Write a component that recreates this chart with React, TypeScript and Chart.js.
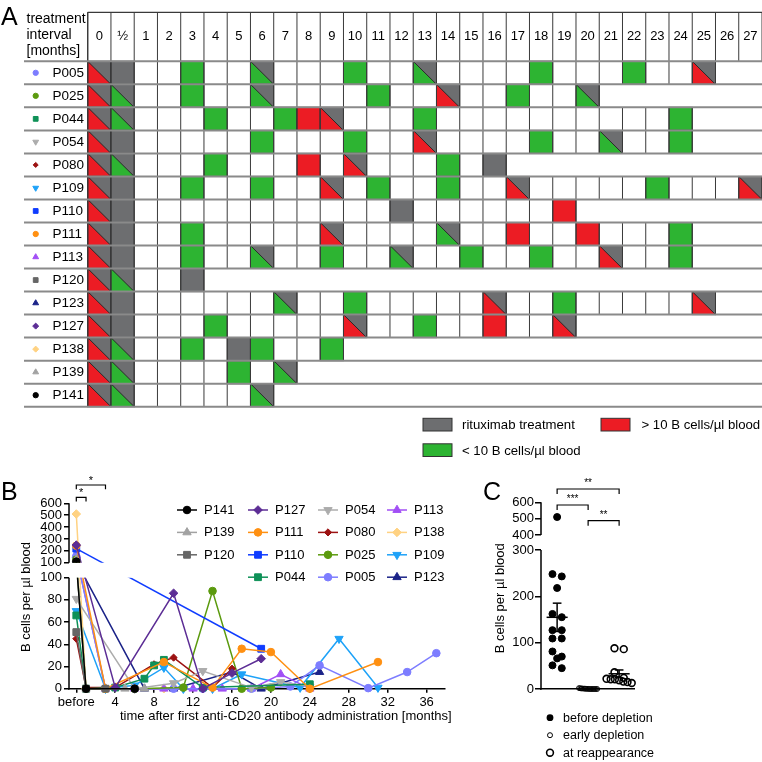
import React, { useEffect, useRef } from 'react';
import { Chart, registerables, LinearScale } from 'chart.js';
import { drawPoint } from 'chart.js/helpers';

Chart.register(...registerables);

const FONT = '"Liberation Sans", Arial, Helvetica, sans-serif';
Chart.defaults.font.family = FONT;
Chart.defaults.color = '#000';

// ---------------- Panel A data ----------------
const patients = ['P005', 'P025', 'P044', 'P054', 'P080', 'P109', 'P110', 'P111', 'P113', 'P120', 'P123', 'P127', 'P138', 'P139', 'P141'];
const intervalLabels = ['0', '½', '1', '2', '3', '4', '5', '6', '7', '8', '9', '10', '11', '12', '13', '14', '15', '16', '17', '18', '19', '20', '21', '22', '23', '24', '25', '26', '27'];
// r: >10 B cells + rituximab, q: <10 B cells + rituximab, g: rituximab, G: <10, R: >10, '.': empty
const cellsP005 = 'rg..G..q...G..q....G...G..r';
const cellsP025 = 'rq..G..q....G..r..G..q';
const cellsP044 = 'rq...G..GRr...G..........G';
const cellsP054 = 'rg.....G...G..r....G..q..G';
const cellsP080 = 'rq...G...R.r...G.g';
const cellsP109 = 'rg..G..G..r.G..G..r.....G...r';
const cellsP110 = 'rg...........g......R';
const cellsP111 = 'rg..G.....r....q..R..R...G';
const cellsP113 = 'rg..G..q..G..q..G..G..r..G';
const cellsP120 = 'rq..g';
const cellsP123 = 'rg......q..G.....r..G.....r';
const cellsP127 = 'rg...G.....r..G..R..r';
const cellsP138 = 'rq..G.gG..G';
const cellsP139 = 'rq....G.q';
const cellsP141 = 'rq.....q';
const treatmentCells = [cellsP005, cellsP025, cellsP044, cellsP054, cellsP080, cellsP109, cellsP110, cellsP111, cellsP113, cellsP120, cellsP123, cellsP127, cellsP138, cellsP139, cellsP141];

// ---------------- Panel B data ----------------
const monthsP005 = [0, 3, 6, 10, 13, 18, 22, 25, 30, 34, 37];
const valuesP005 = [155, 0, 0, 0, 0, 0, 2, 21, 0.5, 15, 32];
const monthsP025 = [0, 1, 3, 6, 11, 14, 17, 20];
const valuesP025 = [127, 0, 0, 0, 1, 88, 0, 1];
const monthsP044 = [0, 1, 4, 7, 8, 9, 13, 24];
const valuesP044 = [66, 0, 1, 9, 21, 26, 1, 4];
const monthsP054 = [0, 6, 10, 13, 18, 21, 24];
const valuesP054 = [81, 0, 5, 16, 1, 6, 2];
const monthsP080 = [0, 1, 4, 8, 10, 14, 16];
const valuesP080 = [45, 1, 1, 22, 28, 1, 18];
const monthsP109 = [0, 3, 6, 9, 11, 14, 17, 23, 27, 31];
const valuesP109 = [70, 0, 3, 19, 0, 0, 13, 1, 45, 1];
const monthsP110 = [0, 19];
const valuesP110 = [218, 36];
const monthsP111 = [0, 3, 9, 14, 17, 20, 24, 31];
const valuesP111 = [243, 0, 24, 1, 36, 33, 0, 24];
const monthsP113 = [0, 3, 6, 9, 12, 15, 18, 21, 24];
const valuesP113 = [162, 0, 0, 0, 0, 0, 0, 13, 0];
const monthsP120 = [0, 1, 3];
const valuesP120 = [51, 0, 0];
const monthsP123 = [0, 7, 10, 16, 19, 25];
const valuesP123 = [109, 0, 0, 15, 0, 15];
const monthsP127 = [0, 4, 10, 13, 16, 19];
const valuesP127 = [248, 1, 86, 0, 14, 27];
const monthsP138 = [0, 1, 3, 6, 9];
const valuesP138 = [510, 0, 0, 0, 0];
const monthsP139 = [0, 1, 5, 7];
const valuesP139 = [127, 0, 0, 0];
const monthsP141 = [0, 1, 6];
const valuesP141 = [109, 0, 0];

const seriesB = [
  { name: 'P141', months: monthsP141, values: valuesP141 },
  { name: 'P139', months: monthsP139, values: valuesP139 },
  { name: 'P120', months: monthsP120, values: valuesP120 },
  { name: 'P127', months: monthsP127, values: valuesP127 },
  { name: 'P111', months: monthsP111, values: valuesP111 },
  { name: 'P110', months: monthsP110, values: valuesP110 },
  { name: 'P044', months: monthsP044, values: valuesP044 },
  { name: 'P054', months: monthsP054, values: valuesP054 },
  { name: 'P080', months: monthsP080, values: valuesP080 },
  { name: 'P025', months: monthsP025, values: valuesP025 },
  { name: 'P005', months: monthsP005, values: valuesP005 },
  { name: 'P113', months: monthsP113, values: valuesP113 },
  { name: 'P138', months: monthsP138, values: valuesP138 },
  { name: 'P109', months: monthsP109, values: valuesP109 },
  { name: 'P123', months: monthsP123, values: valuesP123 },
];
const legendColumnsB = [
  ['P141', 'P139', 'P120'],
  ['P127', 'P111', 'P110', 'P044'],
  ['P054', 'P080', 'P025', 'P005'],
  ['P113', 'P138', 'P109', 'P123'],
];
const xTicksB = [0, 4, 8, 12, 16, 20, 24, 28, 32, 36];
const yTicksBLow = [0, 20, 40, 60, 80, 100];
const yTicksBHigh = [100, 200, 300, 400, 500, 600];

// ---------------- Panel C data ----------------
const groupLabelsC = ['before depletion', 'early depletion', 'at reappearance'];
const beforeDepletion = [155, 127, 66, 81, 45, 70, 218, 243, 162, 51, 109, 248, 510, 127, 109];
const earlyDepletion = [0, 0.5, 0, 1.2, 0, 0.3, 2, 0, 0.8, 0, 1.5, 0, 0.4, 0, 1];
const atReappearance = [21, 88, 21, 16, 22, 19, 36, 24, 13, 15, 86];
const yTicksCLow = [0, 100, 200, 300];
const yTicksCHigh = [400, 500, 600];

// ---------------- styles ----------------
type Style = { color: string; shape: string; r: number; rot?: number };
const seriesStyles: Record<string, Style> = {
  P005: { color: '#7d7dff', shape: 'circle', r: 3.8 },
  P025: { color: '#5b9a0e', shape: 'circle', r: 3.8 },
  P044: { color: '#0f9158', shape: 'rect', r: 4.8 },
  P054: { color: '#acacac', shape: 'triangle', r: 4.8, rot: 180 },
  P080: { color: '#9c1212', shape: 'rectRot', r: 3.6 },
  P109: { color: '#1ea2f8', shape: 'triangle', r: 4.8, rot: 180 },
  P110: { color: '#0f3cff', shape: 'rect', r: 4.8 },
  P111: { color: '#ff9012', shape: 'circle', r: 3.8 },
  P113: { color: '#a24ff5', shape: 'triangle', r: 4.8 },
  P120: { color: '#666666', shape: 'rect', r: 4.8 },
  P123: { color: '#1b2388', shape: 'triangle', r: 4.8 },
  P127: { color: '#5c2d95', shape: 'rectRot', r: 4.3 },
  P138: { color: '#ffd282', shape: 'rectRot', r: 4.3 },
  P139: { color: '#a2a2a2', shape: 'triangle', r: 4.8 },
  P141: { color: '#000000', shape: 'circle', r: 3.8 },
};
const RED = '#ec1c24';
const GREEN = '#2db432';
const GRAY = '#6d6e70';

// ---------------- broken axis scale ----------------
class BrokenScale extends LinearScale {
  static id = 'broken';
  static defaults = {};
  brokenDecimal(v: number) {
    const o: any = this.options;
    const lf = o.lowFrac, gf = o.gapFrac;
    if (v <= o.lowMax) return ((v - this.min) / (o.lowMax - this.min)) * lf;
    return lf + gf + ((v - o.highMin) / (this.max - o.highMin)) * (1 - lf - gf);
  }
  getPixelForValue(value: any) {
    if (value === null || value === undefined || isNaN(value)) return NaN;
    return this.getPixelForDecimal(this.brokenDecimal(value));
  }
  getValueForPixel(pixel: number) {
    const o: any = this.options;
    const d = this.getDecimalForPixel(pixel);
    const lf = o.lowFrac, gf = o.gapFrac;
    if (d <= lf) return this.min + (d / lf) * (o.lowMax - this.min);
    return o.highMin + ((d - lf - gf) / (1 - lf - gf)) * (this.max - o.highMin);
  }
}
Chart.register(BrokenScale as any);

function drawMarker(ctx: CanvasRenderingContext2D, st: Style, x: number, y: number, k = 1) {
  ctx.save();
  ctx.fillStyle = st.color;
  ctx.strokeStyle = st.color;
  ctx.lineWidth = 1;
  drawPoint(ctx, { pointStyle: st.shape, rotation: st.rot || 0, radius: st.r * k, borderWidth: 1 } as any, x, y);
  ctx.restore();
}
function seg(ctx: CanvasRenderingContext2D, x0: number, y0: number, x1: number, y1: number) {
  ctx.beginPath();
  ctx.moveTo(x0, y0);
  ctx.lineTo(x1, y1);
  ctx.stroke();
}
function text(ctx: CanvasRenderingContext2D, s: string, x: number, y: number, size: number, align: CanvasTextAlign = 'left', base: CanvasTextBaseline = 'middle') {
  ctx.font = `${size}px ${FONT}`;
  ctx.fillStyle = '#000';
  ctx.textAlign = align;
  ctx.textBaseline = base;
  ctx.fillText(s, x, y);
}

// ---------------- Panel A plugin ----------------
const tablePlugin = {
  id: 'tablePlugin',
  afterDraw(chart: any) {
    const ctx: CanvasRenderingContext2D = chart.ctx;
    const xs = chart.scales.x, ys = chart.scales.y;
    const X = (c: number) => xs.getPixelForValue(c);
    const Y = (r: number) => ys.getPixelForValue(r);
    const left = X(0), right = chart.width, top = Y(0), bottom = Y(patients.length);
    const headTop = top - 49;
    ctx.save();
    treatmentCells.forEach((row, r) => {
      for (let c = 0; c < row.length; c++) {
        const code = row[c];
        if (code === '.') continue;
        const x0 = X(c), x1 = X(c + 1), y0 = Y(r), y1 = Y(r + 1);
        if (code === 'R' || code === 'G' || code === 'g') {
          ctx.fillStyle = code === 'R' ? RED : code === 'G' ? GREEN : GRAY;
          ctx.fillRect(x0, y0, x1 - x0, y1 - y0);
        } else {
          ctx.fillStyle = GRAY;
          ctx.fillRect(x0, y0, x1 - x0, y1 - y0);
          ctx.fillStyle = code === 'r' ? RED : GREEN;
          ctx.beginPath();
          ctx.moveTo(x0, y0);
          ctx.lineTo(x0, y1);
          ctx.lineTo(x1, y1);
          ctx.closePath();
          ctx.fill();
          ctx.strokeStyle = '#2a2a2a';
          ctx.lineWidth = 1;
          seg(ctx, x0, y0, x1, y1);
        }
        ctx.strokeStyle = '#2a2a2a';
        ctx.lineWidth = 1;
        ctx.strokeRect(x0, y0, x1 - x0, y1 - y0);
      }
    });
    ctx.strokeStyle = '#3a3a3a';
    ctx.lineWidth = 1;
    treatmentCells.forEach((row, r) => {
      for (let c = 0; c <= row.length; c++) seg(ctx, X(c), Y(r), X(c), Y(r + 1));
    });
    for (let c = 0; c <= intervalLabels.length; c++) seg(ctx, X(c), headTop, X(c), top);
    ctx.lineWidth = 1.3;
    seg(ctx, left, headTop, right, headTop);
    seg(ctx, left, headTop, left, bottom);
    ctx.strokeStyle = '#8a8a8a';
    ctx.lineWidth = 2;
    for (let r = 0; r <= patients.length; r++) seg(ctx, 24, Y(r), right, Y(r));
    intervalLabels.forEach((lab, c) => text(ctx, lab, (X(c) + X(c + 1)) / 2, headTop + 24, 13, 'center'));
    text(ctx, 'treatment', 26.5, headTop + 7.3, 14);
    text(ctx, 'interval', 26.5, headTop + 23.3, 14);
    text(ctx, '[months]', 26.5, headTop + 39.3, 14);
    patients.forEach((p, r) => {
      const yc = (Y(r) + Y(r + 1)) / 2;
      drawMarker(ctx, seriesStyles[p], 35.7, yc, 0.7);
      text(ctx, p, 52.5, yc + 0.5, 13.5);
    });
    text(ctx, 'A', 1, 25, 25, 'left', 'alphabetic');
    const box = (x: number, y: number, col: string) => {
      ctx.fillStyle = col;
      ctx.fillRect(x, y, 29, 12.7);
      ctx.strokeStyle = '#333';
      ctx.lineWidth = 1;
      ctx.strokeRect(x, y, 29, 12.7);
    };
    box(423, 418.3, GRAY);
    text(ctx, 'rituximab treatment', 462, 425.5, 13.2);
    box(601, 418.3, RED);
    text(ctx, '> 10 B cells/µl blood', 641.5, 425.5, 13.2);
    box(423, 443.8, GREEN);
    text(ctx, '< 10 B cells/µl blood', 462, 451, 13.2);
    ctx.restore();
  },
};

// ---------------- Panel B plugin ----------------
const B_LOW_MAX = 100;
const bPlugin = {
  id: 'bDecor',
  beforeDatasetsDraw(chart: any) {
    const ctx = chart.ctx, y = chart.scales.y;
    const gTop = y.getPixelForValue(B_LOW_MAX + 1e-6);
    const gBot = y.getPixelForValue(B_LOW_MAX);
    ctx.save();
    ctx.beginPath();
    ctx.rect(0, 0, chart.width, gTop);
    ctx.rect(0, gBot, chart.width, chart.height - gBot);
    ctx.clip();
  },
  afterDatasetsDraw(chart: any) {
    chart.ctx.restore();
  },
  afterDraw(chart: any) {
    const ctx: CanvasRenderingContext2D = chart.ctx;
    const xs = chart.scales.x, ys = chart.scales.y;
    const a = chart.chartArea;
    ctx.save();
    ctx.strokeStyle = '#000';
    ctx.lineWidth = 1.5;
    seg(ctx, a.left, ys.getPixelForValue(0) + 0.75, a.left, ys.getPixelForValue(B_LOW_MAX));
    seg(ctx, a.left, ys.getPixelForValue(B_LOW_MAX + 1e-6), a.left, ys.getPixelForValue(600));
    ctx.save();
    ctx.translate(26, 142);
    ctx.rotate(-Math.PI / 2);
    text(ctx, 'B cells per µl blood', 0, 0, 13, 'center');
    ctx.restore();
    text(ctx, 'time after first anti-CD20 antibody administration [months]', 120, 261.7, 13);
    text(ctx, 'B', 1, 45, 25, 'left', 'alphabetic');
    ctx.lineWidth = 1.2;
    const x0 = xs.getPixelForValue(0), x1 = xs.getPixelForValue(1), x3 = xs.getPixelForValue(3);
    const bracket = (xa: number, xb: number, yb: number) => {
      ctx.beginPath();
      ctx.moveTo(xa, yb + 4.3);
      ctx.lineTo(xa, yb);
      ctx.lineTo(xb, yb);
      ctx.lineTo(xb, yb + 4.3);
      ctx.stroke();
    };
    bracket(x0, x3, 30);
    text(ctx, '*', (x0 + x3) / 2, 26, 11, 'center');
    bracket(x0, x1, 42.3);
    text(ctx, '*', (x0 + x1) / 2, 38.3, 11, 'center');
    const colX = [187, 258, 328, 397];
    legendColumnsB.forEach((col, ci) => {
      col.forEach((name, ri) => {
        const st = seriesStyles[name];
        const yy = 55 + ri * 22.4;
        ctx.strokeStyle = st.color;
        ctx.lineWidth = 1.5;
        seg(ctx, colX[ci] - 10, yy, colX[ci] + 10, yy);
        drawMarker(ctx, st, colX[ci], yy);
        text(ctx, name, colX[ci] + 17, yy + 0.5, 13);
      });
    });
    ctx.restore();
  },
};

// ---------------- Panel C plugin ----------------
const C_LOW_MAX = 300;
function meanSem(v: number[]) {
  const m = v.reduce((s, x) => s + x, 0) / v.length;
  const sd = Math.sqrt(v.reduce((s, x) => s + (x - m) * (x - m), 0) / (v.length - 1));
  return [m, sd / Math.sqrt(v.length)];
}
const cPlugin = {
  id: 'cDecor',
  afterDatasetsDraw(chart: any) {
    const ctx: CanvasRenderingContext2D = chart.ctx;
    const xs = chart.scales.x, ys = chart.scales.y;
    ctx.save();
    ctx.strokeStyle = '#000';
    ctx.lineWidth = 1.5;
    [beforeDepletion, earlyDepletion, atReappearance].forEach((vals, gi) => {
      const [m, s] = meanSem(vals);
      const g = gi + 1;
      seg(ctx, xs.getPixelForValue(g - 0.34), ys.getPixelForValue(m), xs.getPixelForValue(g + 0.34), ys.getPixelForValue(m));
      seg(ctx, xs.getPixelForValue(g), ys.getPixelForValue(m - s), xs.getPixelForValue(g), ys.getPixelForValue(m + s));
      seg(ctx, xs.getPixelForValue(g - 0.14), ys.getPixelForValue(m + s), xs.getPixelForValue(g + 0.14), ys.getPixelForValue(m + s));
      seg(ctx, xs.getPixelForValue(g - 0.14), ys.getPixelForValue(m - s), xs.getPixelForValue(g + 0.14), ys.getPixelForValue(m - s));
    });
    ctx.restore();
  },
  afterDraw(chart: any) {
    const ctx: CanvasRenderingContext2D = chart.ctx;
    const xs = chart.scales.x, ys = chart.scales.y;
    const a = chart.chartArea;
    ctx.save();
    ctx.strokeStyle = '#000';
    ctx.lineWidth = 1.5;
    seg(ctx, a.left, ys.getPixelForValue(0) + 0.75, a.left, ys.getPixelForValue(C_LOW_MAX));
    seg(ctx, a.left, ys.getPixelForValue(400), a.left, ys.getPixelForValue(600));
    ctx.save();
    ctx.translate(30.8, 143.3);
    ctx.rotate(-Math.PI / 2);
    text(ctx, 'B cells per µl blood', 0, 0, 13, 'center');
    ctx.restore();
    text(ctx, 'C', 13, 45, 25, 'left', 'alphabetic');
    ctx.lineWidth = 1.2;
    const g1 = xs.getPixelForValue(1), g2 = xs.getPixelForValue(2), g3 = xs.getPixelForValue(3);
    const bracket = (xa: number, xb: number, yb: number, s: string) => {
      ctx.beginPath();
      ctx.moveTo(xa, yb + 5);
      ctx.lineTo(xa, yb);
      ctx.lineTo(xb, yb);
      ctx.lineTo(xb, yb + 5);
      ctx.stroke();
      text(ctx, s, (xa + xb) / 2, yb - 5.5, 10, 'center');
    };
    bracket(g1, g3, 34, '**');
    bracket(g1, g2, 50, '***');
    bracket(g2, g3, 65.7, '**');
    const ly = [262.7, 280.2, 297.7];
    ctx.fillStyle = '#000';
    ctx.beginPath();
    ctx.arc(80, ly[0], 3.4, 0, Math.PI * 2);
    ctx.fill();
    ctx.lineWidth = 1;
    ctx.beginPath();
    ctx.arc(80, ly[1], 2.5, 0, Math.PI * 2);
    ctx.stroke();
    ctx.lineWidth = 1.6;
    ctx.beginPath();
    ctx.arc(80, ly[2], 3.4, 0, Math.PI * 2);
    ctx.stroke();
    groupLabelsC.forEach((lab, i) => text(ctx, lab, 93, ly[i] + 0.5, 12.5));
    ctx.restore();
  },
};

function swarm(py: number[], pairSpacing: number, denseSpacing: number, binPx: number) {
  const idx = py.map((_, i) => i).sort((a, b) => py[a] - py[b]);
  const off = py.map(() => 0);
  let bin: number[] = [];
  let start = 0;
  const flush = () => {
    const sp = bin.length <= 2 ? pairSpacing : denseSpacing;
    bin.forEach((k, j) => (off[k] = (j - (bin.length - 1) / 2) * sp));
    bin = [];
  };
  for (const k of idx) {
    if (bin.length && py[k] - start > binPx) flush();
    if (!bin.length) start = py[k];
    bin.push(k);
  }
  flush();
  return off;
}

const tickFont = { family: FONT, size: 13 };

export default function App() {
  const aRef = useRef<HTMLCanvasElement>(null);
  const bRef = useRef<HTMLCanvasElement>(null);
  const cRef = useRef<HTMLCanvasElement>(null);

  useEffect(() => {
    const chartA = new Chart(aRef.current as HTMLCanvasElement, {
      type: 'scatter',
      data: { datasets: [] },
      options: {
        responsive: false,
        animation: false,
        events: [],
        layout: { padding: { left: 87.7, right: 0, top: 61.3, bottom: 55.3 } },
        plugins: { legend: { display: false }, tooltip: { enabled: false } },
        scales: {
          x: { type: 'linear', display: false, min: 0, max: intervalLabels.length },
          y: { type: 'linear', display: false, min: 0, max: patients.length, reverse: true },
        },
      },
      plugins: [tablePlugin],
    } as any);

    const chartB = new Chart(bRef.current as HTMLCanvasElement, {
      type: 'scatter',
      data: {
        datasets: seriesB.map((s) => {
          const st = seriesStyles[s.name];
          return {
            label: s.name,
            data: s.months.map((m, i) => ({ x: m, y: s.values[i] })),
            showLine: true,
            borderColor: st.color,
            backgroundColor: st.color,
            pointBackgroundColor: st.color,
            pointBorderColor: st.color,
            pointStyle: st.shape,
            pointRadius: st.r,
            pointRotation: st.rot || 0,
            pointBorderWidth: 1,
            borderWidth: 1.5,
            tension: 0,
            clip: false,
          };
        }),
      },
      options: {
        responsive: false,
        animation: false,
        events: [],
        layout: { padding: { left: 0, right: 25, top: 48.3, bottom: 0 } },
        plugins: { legend: { display: false }, tooltip: { enabled: false } },
        scales: {
          x: {
            type: 'linear',
            min: -0.75,
            max: 37.89,
            afterBuildTicks: (s: any) => { s.ticks = xTicksB.map((v) => ({ value: v })); },
            afterFit: (s: any) => { s.height = 73.3; },
            ticks: { autoSkip: false, maxRotation: 0, font: tickFont, color: '#000', padding: 2, callback: (v: any) => (v === 0 ? 'before' : String(v)) },
            grid: { display: true, drawOnChartArea: false, drawTicks: true, tickLength: 4, color: '#000', lineWidth: 1.5 },
            border: { display: true, color: '#000', width: 1.5 },
          },
          y: {
            type: 'broken',
            min: 0,
            max: 600,
            lowMax: B_LOW_MAX,
            highMin: 100,
            lowFrac: 0.5987,
            gapFrac: 0.0809,
            afterBuildTicks: (s: any) => {
              s.ticks = [...yTicksBLow, ...yTicksBHigh.map((v) => (v === B_LOW_MAX ? v + 1e-6 : v))].map((v) => ({ value: v }));
            },
            afterFit: (s: any) => { s.width = 69; },
            ticks: { autoSkip: false, font: tickFont, color: '#000', padding: 2, callback: (v: any) => String(Math.round(v)) },
            grid: { display: true, drawOnChartArea: false, drawTicks: true, tickLength: 5, color: '#000', lineWidth: 1.5 },
            border: { display: false },
          },
        },
      },
      plugins: [bPlugin],
    } as any);

    const cGroups = [beforeDepletion, earlyDepletion, atReappearance];
    const chartC = new Chart(cRef.current as HTMLCanvasElement, {
      type: 'scatter',
      data: {
        datasets: [
          { label: groupLabelsC[0], data: beforeDepletion.map((v) => ({ x: 1, y: v })), pointStyle: 'circle', pointRadius: 3.5, pointBackgroundColor: '#000', pointBorderColor: '#000', pointBorderWidth: 1, clip: false },
          { label: groupLabelsC[1], data: earlyDepletion.map((v) => ({ x: 2, y: v })), pointStyle: 'circle', pointRadius: 2.4, pointBackgroundColor: 'rgba(0,0,0,0)', pointBorderColor: '#000', pointBorderWidth: 1, clip: false },
          { label: groupLabelsC[2], data: atReappearance.map((v) => ({ x: 3, y: v })), pointStyle: 'circle', pointRadius: 3.4, pointBackgroundColor: 'rgba(0,0,0,0)', pointBorderColor: '#000', pointBorderWidth: 1.6, clip: false },
        ],
      },
      options: {
        responsive: false,
        animation: false,
        events: [],
        layout: { padding: { left: 0, right: 128, top: 47.3, bottom: 0 } },
        plugins: { legend: { display: false }, tooltip: { enabled: false } },
        scales: {
          x: {
            type: 'linear',
            min: 0.48,
            max: 3.48,
            afterFit: (s: any) => { s.height = 73; },
            ticks: { display: false },
            grid: { display: false },
            border: { display: true, color: '#000', width: 1.5 },
          },
          y: {
            type: 'broken',
            min: 0,
            max: 600,
            lowMax: C_LOW_MAX,
            highMin: 400,
            lowFrac: 0.7445,
            gapFrac: 0.0803,
            afterBuildTicks: (s: any) => { s.ticks = [...yTicksCLow, ...yTicksCHigh].map((v) => ({ value: v })); },
            afterFit: (s: any) => { s.width = 71; },
            ticks: { autoSkip: false, font: tickFont, color: '#000', padding: 1, callback: (v: any) => String(Math.round(v)) },
            grid: { display: true, drawOnChartArea: false, drawTicks: true, tickLength: 6, color: '#000', lineWidth: 1.5 },
            border: { display: false },
          },
        },
      },
      plugins: [cPlugin],
    } as any);

    const ys: any = chartC.scales.y, xs: any = chartC.scales.x;
    const pxPerUnit = xs.getPixelForValue(2) - xs.getPixelForValue(1);
    const params = [
      [9.3, 6, 6],
      [1.3, 1.3, 30],
      [9.3, 4.2, 6],
    ];
    cGroups.forEach((vals, gi) => {
      const py = vals.map((v) => ys.getPixelForValue(v));
      const off = swarm(py, params[gi][0], params[gi][1], params[gi][2]);
      (chartC.data.datasets[gi] as any).data = vals.map((v, i) => ({ x: gi + 1 + off[i] / pxPerUnit, y: v }));
    });
    chartC.update('none');

    return () => {
      chartA.destroy();
      chartB.destroy();
      chartC.destroy();
    };
  }, []);

  return (
    <div style={{ position: 'absolute', left: 0, top: 0, width: 762, height: 762, background: '#fff', overflow: 'hidden' }}>
      <canvas ref={aRef} width={762} height={462} style={{ position: 'absolute', left: 0, top: 0, width: 762, height: 462 }} />
      <canvas ref={bRef} width={470} height={307} style={{ position: 'absolute', left: 0, top: 455, width: 470, height: 307 }} />
      <canvas ref={cRef} width={292} height={307} style={{ position: 'absolute', left: 470, top: 455, width: 292, height: 307 }} />
    </div>
  );
}
